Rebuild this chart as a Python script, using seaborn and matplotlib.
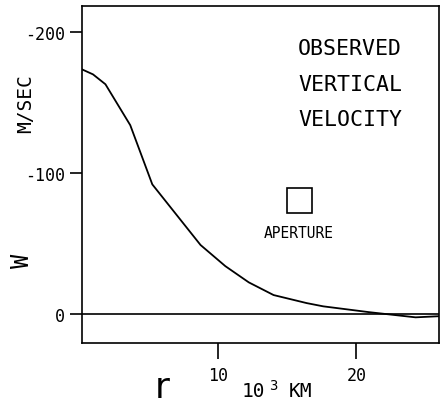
import matplotlib
matplotlib.use("Agg")
import matplotlib.pyplot as plt
import seaborn as sns
import pandas as pd
from matplotlib.patches import Rectangle

# data
r_km = [0.0, 0.9, 1.8, 3.6, 5.2, 8.7, 10.5, 12.2, 14.0, 16.4, 17.6, 20.9, 24.3, 26.0]
w_ms = [-174, -170, -163, -134, -92, -49, -34, -22.5, -13.5, -7.8, -5.5, -1.4, 2.3, 1.5]
x_ticks = [10, 20]
x_tick_labels = ["10", "20"]
y_ticks = [-200, -100, 0]
y_tick_labels = ["-200", "-100", "0"]
title_lines = ["OBSERVED", "VERTICAL", "VELOCITY"]

sns.set_theme(style="white")
plt.rcParams['font.family'] = ['DejaVu Sans Mono', 'DejaVu Sans']
plt.rcParams['axes.unicode_minus'] = False

W, H = 441, 406
fig = plt.figure(figsize=(W / 100, H / 100), dpi=100)
ax = fig.add_axes([82 / W, 1 - 344 / H, (439 - 82) / W, (344 - 7) / H])

df = pd.DataFrame({"r": r_km, "w": w_ms})
sns.lineplot(data=df, x="r", y="w", ax=ax, color="black", linewidth=1.3)
ax.axhline(0, color="black", linewidth=1.2)

ax.set_xlim(0.1, 26.0)
ax.set_ylim(20.5, -218.5)

ax.set_xticks(x_ticks)
ax.set_xticklabels(x_tick_labels)
ax.set_yticks(y_ticks)
ax.set_yticklabels(y_tick_labels)
ax.set_xlabel("")
ax.set_ylabel("")

for s in ax.spines.values():
    s.set_color("black")
    s.set_linewidth(1.2)

ax.tick_params(axis="x", direction="out", length=11.5, width=1.2, pad=5,
               labelsize=12, colors="black", bottom=True)
ax.tick_params(axis="y", direction="out", length=9, width=1.2, pad=3,
               labelsize=12, colors="black", left=True)

# title text
for txt, yp in zip(title_lines, [49, 85, 120]):
    fig.text(350 / W, 1 - yp / H, txt, ha="center", va="center", fontsize=15.5, color="black")

# aperture
ax.add_patch(Rectangle((15.87 - 0.9, -80.4 - 8.85), 1.8, 17.7, fill=False,
                       edgecolor="black", linewidth=1.2))
fig.text(298.5 / W, 1 - 234 / H, "APERTURE", ha="center", va="center", fontsize=10.5, color="black")

# axis labels
fig.text(25.5 / W, 1 - 104 / H, "M/SEC", ha="center", va="center", rotation=90, fontsize=14, color="black")
fig.text(21.7 / W, 1 - 261 / H, "W", ha="center", va="center", rotation=90, fontsize=17, color="black")
fig.text(162 / W, 1 - 388 / H, "r", ha="center", va="center", fontsize=26, color="black",
         family=['DejaVu Sans'])
fig.text(253 / W, 1 - 392 / H, "10", ha="center", va="center", fontsize=14, color="black")
fig.text(273 / W, 1 - 386 / H, "3", ha="center", va="center", fontsize=10, color="black")
fig.text(300 / W, 1 - 392 / H, "KM", ha="center", va="center", fontsize=14, color="black")

fig.savefig("out.png", dpi=100)
